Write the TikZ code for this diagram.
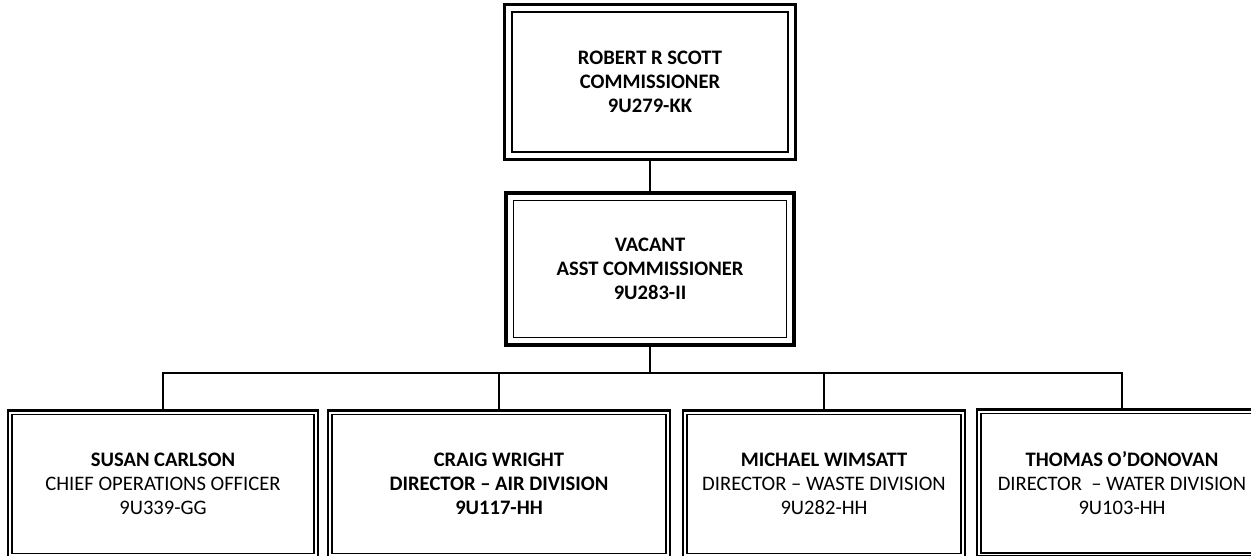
\documentclass[tikz,border=0pt]{standalone}
\usepackage{fontspec}
\setmainfont{Carlito}
\usetikzlibrary{positioning}

% thin inner frame of a box
\newcommand{\innerframe}[3]{%
\draw[line width=#3] ([shift={(#2,-#2)}]#1.north west) rectangle ([shift={(-#2,#2)}]#1.south east);}

\begin{document}
\begin{tikzpicture}[x=.5pt, y=-.5pt,
  box/.style={draw, fill=white, align=center, inner sep=0pt,
    font=\fontsize{10.3}{12}\selectfont},
  topbox/.style={box, line width=1.5pt, minimum width=145.5pt, minimum height=77.5pt},
  asstbox/.style={box, line width=2.3pt, minimum width=144pt, minimum height=76pt},
  divbox/.style={box, line width=1.2pt, minimum height=73.5pt},
  wire/.style={line width=.7pt}]
\clip (0,0) rectangle (1251,556);
\fill[white] (0,0) rectangle (1251,556);

\node[topbox] (comm) at (650,82) {\textbf{ROBERT R SCOTT}\\\textbf{COMMISSIONER}\\\textbf{9U279-KK}};
\innerframe{comm}{4.5pt}{.9pt}
\node[asstbox] (asst) at (650,269) {\textbf{VACANT}\\\textbf{ASST COMMISSIONER}\\\textbf{9U283-II}};
\innerframe{asst}{5pt}{.6pt}

\node[divbox, minimum width=155pt] (coo) at (163,484) {\textbf{SUSAN CARLSON}\\CHIEF OPERATIONS OFFICER\\9U339-GG};
\node[divbox, minimum width=171pt] (air) at (499,484) {\textbf{CRAIG WRIGHT}\\\textbf{DIRECTOR -- AIR DIVISION}\\\textbf{9U117-HH}};
\node[divbox, minimum width=141pt] (waste) at (824,484) {\textbf{MICHAEL WIMSATT}\\DIRECTOR -- WASTE DIVISION\\9U282-HH};
\node[divbox, minimum width=145pt, line width=1.4pt] (water) at (1122,483) {\textbf{THOMAS O'DONOVAN}\\DIRECTOR ~-- WATER DIVISION\\9U103-HH};
\foreach \n in {coo,air,waste,water}{
  \innerframe{\n}{2.6pt}{.8pt}
}

\coordinate (bus) at (650,373);
\draw[wire] (comm.south) -- (asst.north);
\draw[wire] (asst.south) -- (bus);
\foreach \n in {coo,air,waste,water}
  \draw[wire] (bus) -| (\n.north);
\end{tikzpicture}
\end{document}
